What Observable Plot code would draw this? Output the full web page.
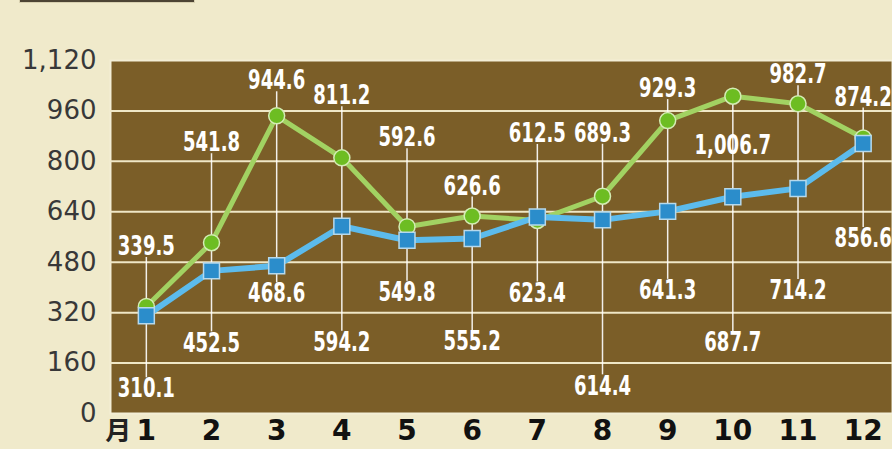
<!DOCTYPE html>
<html><head><meta charset="utf-8">
<script src="https://cdn.jsdelivr.net/npm/d3@7"></script>
<script src="https://cdn.jsdelivr.net/npm/@observablehq/plot@0.6"></script>
<style>
body{margin:0;background:#f0eacb;}
#wrap{position:relative;width:892px;height:449px;overflow:hidden;background:#f0eacb;}
#hdr{position:absolute;left:19px;top:-20px;width:174px;height:21px;background:#4d4434;border:1px solid #d8d0b0;}
#chart{position:absolute;left:0;top:0;}
</style></head><body><div id="wrap"><div id="hdr"></div><div id="chart"></div></div>
<script>
// ---- data ----
const months = [1, 2, 3, 4, 5, 6, 7, 8, 9, 10, 11, 12];
const monthPrefix = "月";
const greenValues = [339.5, 541.8, 944.6, 811.2, 592.6, 626.6, 612.5, 689.3, 929.3, 1006.7, 982.7, 874.2];
const blueValues  = [310.1, 452.5, 468.6, 594.2, 549.8, 555.2, 623.4, 614.4, 641.3, 687.7, 714.2, 856.6];
const yTicks = [0, 160, 320, 480, 640, 800, 960, 1120];
// label placement (pixel offsets from the point; negative = above)
const greenLabelOffset = [-60, -100, -35, -62, -89, -30, -87, -63, -32, 49, -29, -41];
const blueLabelOffset  = [73, 72, 28, 116, 52, 103, 76, 166, 79, 146, 102, 95];

// ---- layout ----
const W = 892, H = 449, mTop = 60, mBottom = 36, mLeft = 110, mRight = 0;
const y = d3.scaleLinear([0, 1120], [H - mBottom, mTop]);
const fmt = d3.format(",.1f");

const green = months.map((m, i) => ({m, v: greenValues[i], lab: y.invert(y(greenValues[i]) + greenLabelOffset[i]), t: fmt(greenValues[i])}));
const blue  = months.map((m, i) => ({m, v: blueValues[i],  lab: y.invert(y(blueValues[i]) + blueLabelOffset[i]),  t: fmt(blueValues[i])}));

const rules = months.map((m, i) => {
  const pts = [y(greenValues[i]), y(blueValues[i])];
  const g = y(greenValues[i]) + greenLabelOffset[i];
  const b = y(blueValues[i]) + blueLabelOffset[i];
  pts.push(greenLabelOffset[i] < 0 ? g + 11 : g - 11);
  pts.push(blueLabelOffset[i] < 0 ? b + 11 : b - 11);
  return {m, top: y.invert(d3.min(pts)), bottom: y.invert(d3.max(pts))};
});

const brown = "#7b5e28";
const cream = "#efe7c6";

const chart = Plot.plot({
  width: W, height: H,
  marginTop: mTop, marginBottom: mBottom, marginLeft: mLeft, marginRight: mRight,
  style: {background: "transparent", overflow: "visible"},
  x: {domain: [0.45, 12.45], axis: null},
  y: {domain: [0, 1120], axis: null},
  marks: [
    Plot.frame({fill: brown, stroke: "#f3eed6", strokeWidth: 2}),
    Plot.ruleY(yTicks.filter(d => d > 0 && d < 1120), {stroke: cream, strokeWidth: 2}),
    Plot.ruleX(rules, {x: "m", y1: "top", y2: "bottom", stroke: "#ffffff", strokeWidth: 1.5, strokeOpacity: 0.9}),
    Plot.line(green, {x: "m", y: "v", stroke: "#a2d262", strokeWidth: 5}),
    Plot.line(blue, {x: "m", y: "v", stroke: "#5cbbec", strokeWidth: 6}),
    Plot.dot(green, {x: "m", y: "v", r: 8, fill: "#6dbd22", stroke: "#d4ecb4", strokeWidth: 1.5}),
    Plot.dot(blue, {x: "m", y: "v", symbol: "square", r: 9, fill: "#2b8dcb", stroke: "#b6d9ec", strokeWidth: 1.5}),
    Plot.text(green, {x: "m", y: "lab", text: "t", fill: "#ffffff", fontSize: 27, fontWeight: "bold", fontFamily: "DejaVu Sans", ariaDescription: "vlabel"}),
    Plot.text(blue, {x: "m", y: "lab", text: "t", fill: "#ffffff", fontSize: 27, fontWeight: "bold", fontFamily: "DejaVu Sans", ariaDescription: "vlabel"}),
    Plot.text(yTicks, {y: d => d, text: d => d3.format(",")(d), frameAnchor: "left", dx: -14, textAnchor: "end", fontSize: 26, fill: "#383838", fontFamily: "DejaVu Sans"}),
    Plot.text(months, {x: d => d, text: d => String(d), frameAnchor: "bottom", dy: 26, fontSize: 28, fontWeight: "bold", fill: "#111111", fontFamily: "DejaVu Sans"}),
    Plot.text([monthPrefix], {x: () => months[0], text: d => d, frameAnchor: "bottom", dx: -28, dy: 26, fontSize: 26, fontWeight: "bold", fill: "#222222", fontFamily: "Noto Sans CJK JP"})
  ]
});
document.getElementById("chart").appendChild(chart);

// horizontally condense value labels
d3.select(chart).selectAll('g[aria-description="vlabel"] text, g[font-size="27"] text').each(function () {
  if (this.__condensed) return;
  this.__condensed = true;
  let t = this.getAttribute("transform");
  if (!t) {
    const x = this.getAttribute("x") || 0, yy = this.getAttribute("y") || 0;
    this.removeAttribute("x"); this.removeAttribute("y");
    t = `translate(${x},${yy})`;
  }
  this.setAttribute("transform", t + " scale(0.67,1)");
});
</script>
</body></html>
